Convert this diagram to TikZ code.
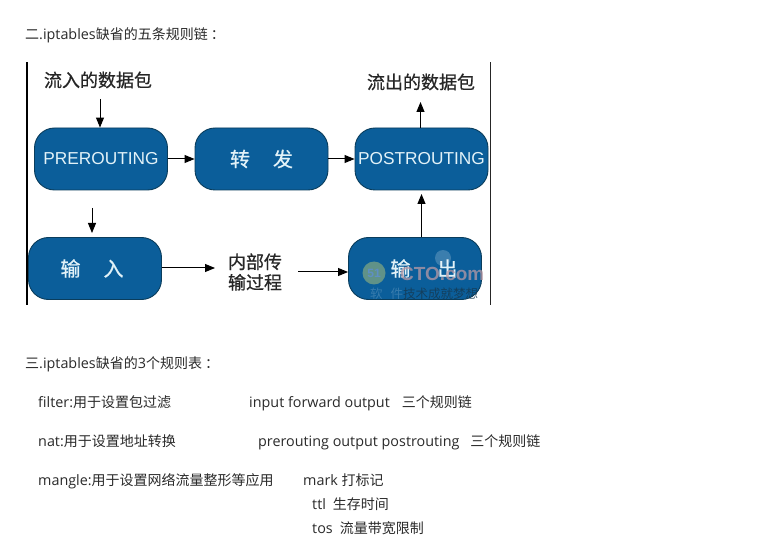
\documentclass[tikz,border=0pt]{standalone}
\usepackage{fontspec}
\setmainfont{Open Sans}[Scale=1.025]
\newfontfamily\cjk{Noto Sans CJK SC}
\newfontfamily\cjkm{Noto Sans CJK SC}[FakeBold=0.7]
\newfontfamily\boxlatin{Liberation Sans}
\usetikzlibrary{arrows.meta}
\definecolor{boxblue}{HTML}{0B5E9A}
\definecolor{boxedge}{HTML}{0A3D5C}
\definecolor{boxtext}{HTML}{E2F2F8}
\definecolor{bodytext}{HTML}{2A2A2A}
\definecolor{wmgreen}{HTML}{6F9C86}
\definecolor{wmblue}{HTML}{5E8FC4}
\definecolor{wmsitecol}{HTML}{B89AA6}
\definecolor{wmzhcol}{HTML}{16384F}
\tikzset{
  chainbox/.style={draw=boxedge,line width=0.9pt,fill=boxblue,rounded corners=20pt,minimum width=133pt,minimum height=62pt,inner sep=0pt,text=boxtext},
  latinlabel/.style={font=\boxlatin\fontsize{17.3}{20}\selectfont},
  cjklabel/.style={font=\cjkm\fontsize{20}{22}\selectfont},
  drawlabel/.style={font=\cjkm\fontsize{18}{20.5}\selectfont,text=black!85,inner sep=0pt,align=center},
  arr/.style={line width=1pt,-{Triangle[length=10pt,width=8pt]},black},
  bodyline/.style={anchor=base west,inner sep=0pt,text=bodytext,font=\fontsize{14}{16}\selectfont},
  mark text/.style={inner sep=0pt}
}
\begin{document}
\begin{tikzpicture}[x=1pt,y=-1pt]
\useasboundingbox (0,0) rectangle (769,548);
\fill[white] (0,0) rectangle (769,548);

\node[bodyline] (t2) at (25,40) {{\cjk 二}.iptables{\cjk 缺省的五条规则链}\hspace{3pt}{\cjk ：}};

% frame edges of the picture
\fill[black] (26,62) rectangle (27.6,305);
\fill[black!85] (490.2,62) rectangle (491,305);

% chain boxes
\node[chainbox,latinlabel] (pre) at (101,159) {PREROUTING};
\node[chainbox,cjklabel] (fwd) at (261.5,159) {转\hspace{23pt}发};
\node[chainbox,latinlabel] (post) at (421.5,159) {POSTROUTING};
\node[chainbox,cjklabel] (in) at (95,268.5) {\hspace*{-6pt}输\hspace{23pt}入};
\node[chainbox,cjklabel] (out) at (415,268.5) {\hspace*{18pt}输\hspace{27pt}出};

% labels
\node[drawlabel] (inlab) at (98,80) {流入的数据包};
\node[drawlabel] (outlab) at (421,82) {流出的数据包};
\node[drawlabel] (proc) at (255,272) {内部传\\输过程};

% connectors
\coordinate (p1) at (100,99);
\coordinate (p2) at (92,208);
\coordinate (p3) at (92,233);
\coordinate (p4) at (215,268);
\coordinate (p5) at (298,272);
\coordinate (p6) at (420.5,102);
\coordinate (p7) at (421.5,194);
\draw[arr] (p1) -- (p1 |- pre.north);
\draw[arr] (pre.east) -- (fwd.west);
\draw[arr] (fwd.east) -- (post.west);
\draw[arr] (p6 |- post.north) -- (p6);
\draw[arr] (p2) -- (p3);
\draw[arr] (in.east |- p4) -- (p4);
\draw[arr] (p5) -- (out.west |- p5);
\draw[arr] (p7 |- out.north) -- (p7);

% watermark
\fill[wmgreen,opacity=0.85] (374,273) circle (11.5);
\node[mark text,text=wmblue,font=\boxlatin\bfseries\fontsize{12}{12}\selectfont] (wm51) at (374,273) {51};
\fill[white,opacity=0.2] (443,258) circle (8);
\node[mark text,text=wmsitecol,opacity=0.75,font=\boxlatin\bfseries\fontsize{19}{19}\selectfont,anchor=west] (wmsite) at (400,274) {CTO.com};
\node[mark text,text=wmzhcol,opacity=0.8,font=\cjk\fontsize{12.5}{13}\selectfont,anchor=west] (wmzh) at (403,294) {技术成就梦想};
\node[mark text,text=white,opacity=0.18,font=\cjk\fontsize{12.5}{13}\selectfont,anchor=west] (wmsoft) at (370,294) {软\hspace{8pt}件};

% lower text
\node[bodyline] (t3) at (25,368) {{\cjk 三}.iptables{\cjk 缺省的}3{\cjk 个规则表}\hspace{3pt}{\cjk ：}};
\node[bodyline] (f1) at (38,407) {filter:{\cjk 用于设置包过滤}};
\node[bodyline] (f2) at (249,407) {input forward output\hspace{12pt}{\cjk 三个规则链}};
\node[bodyline] (n1) at (38,446) {nat:{\cjk 用于设置地址转换}};
\node[bodyline] (n2) at (258,446) {prerouting output postrouting\hspace{11pt}{\cjk 三个规则链}};
\node[bodyline] (m1) at (38,485) {mangle:{\cjk 用于设置网络流量整形等应用}};
\node[bodyline] (m2) at (303,485) {mark {\cjk 打标记}};
\node[bodyline] (m3) at (312,509) {ttl\hspace{7pt}{\cjk 生存时间}};
\node[bodyline] (m4) at (312,533) {tos\hspace{7pt}{\cjk 流量带宽限制}};
\end{tikzpicture}
\end{document}
